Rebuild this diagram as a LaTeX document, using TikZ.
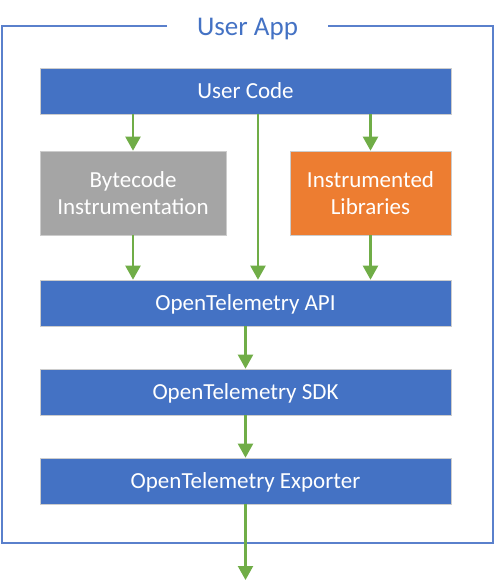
\documentclass[tikz,border=0pt]{standalone}
\usepackage{fontspec}
\setmainfont{Carlito}
\usetikzlibrary{arrows.meta}
\definecolor{oblue}{HTML}{4472C4}
\definecolor{ogray}{HTML}{A5A5A5}
\definecolor{oorange}{HTML}{ED7D31}
\definecolor{ogreen}{HTML}{70AD47}
\definecolor{oframe}{HTML}{5A80CC}
\tikzset{
  layer/.style={draw=black!20, line width=0.6pt, inner sep=0pt, text=white,
    font=\fontsize{23}{27}\selectfont, align=center},
  wide/.style={layer, fill=oblue, minimum width=411pt, minimum height=46pt, text height=15pt, text depth=0pt},
  side/.style={layer, minimum height=84pt},
  flow/.style={draw=ogreen, line width=2.2pt, -{Triangle[width=15pt,length=14pt]}},
}
\begin{document}
\begin{tikzpicture}[x=1pt,y=-1pt]
\useasboundingbox (0,0) rectangle (495,582);
% frame
\coordinate (fl) at (167,26);
\coordinate (fr) at (328,26);
\draw[oframe, line width=1.5pt] (fl) -- (2,26) -- (2,543) -- (493,543) -- (493,26) -- (fr);
\node[anchor=base, text=oblue, font=\fontsize{27}{32}\selectfont, inner sep=0pt] (title) at (247.5,35) {User App};
% boxes
\node[wide] (code) at (245.5,91) {User Code};
\node[side, fill=ogray, minimum width=186pt] (bci) at (133,193) {Bytecode\\Instrumentation};
\node[side, fill=oorange, minimum width=161pt] (lib) at (370.5,193) {Instrumented\\Libraries};
\node[wide] (api) at (245.5,303) {OpenTelemetry API};
\node[wide] (sdk) at (245.5,392) {OpenTelemetry SDK};
\node[wide] (exp) at (245.5,481) {OpenTelemetry Exporter};
\coordinate (out) at (245.5,580);
% connectors
\draw[flow] (code.south -| bci.north) -- (bci.north);
\draw[flow] (code.south -| lib.north) -- (lib.north);
\draw[flow] (code.south -| 258,0) -- (api.north -| 258,0);
\draw[flow] (bci.south) -- (api.north -| bci.south);
\draw[flow] (lib.south) -- (api.north -| lib.south);
\draw[flow] (api.south) -- (sdk.north);
\draw[flow] (sdk.south) -- (exp.north);
\draw[flow] (exp.south) -- (out);
\end{tikzpicture}
\end{document}
